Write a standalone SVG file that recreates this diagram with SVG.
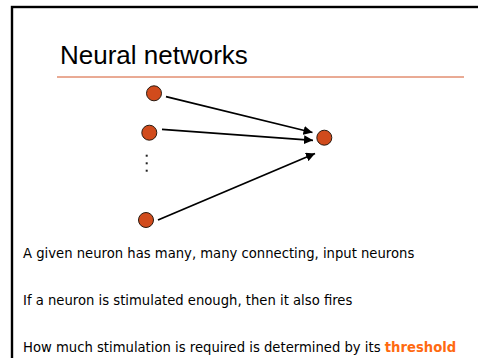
<svg xmlns="http://www.w3.org/2000/svg" width="478" height="358" viewBox="0 0 478 358">
  <defs>
    <marker id="arrowhead" viewBox="0 0 10 10" refX="10" refY="5" markerWidth="5" markerHeight="5" markerUnits="strokeWidth" orient="auto">
      <path d="M0,0 L10,5 L0,10 z" fill="#000"/>
    </marker>
  </defs>
  <style>
    .frame { fill: none; stroke: #000; stroke-width: 2.4; }
    .title { font-family: "Liberation Sans", Arial, sans-serif; font-size: 26px; fill: #000; }
    .rule { stroke: #d4572a; stroke-width: 1; }
    .neuron { fill: #d14b1c; stroke: #2a1a10; stroke-width: 1; }
    .link { stroke: #000; stroke-width: 1.8; fill: none; marker-end: url(#arrowhead); }
    .body { font-family: "DejaVu Sans", Verdana, sans-serif; font-size: 13.2px; fill: #000; }
    .hl { font-weight: bold; fill: #ff6a10; }
    .dot { fill: #222; }
  </style>

  <rect width="478" height="358" fill="#fff"/>
  <!-- slide frame, continues past the right and bottom edges -->
  <rect class="frame" x="12" y="7" width="520" height="400"/>

  <text class="title" x="60" y="64">Neural networks</text>
  <line class="rule" x1="57" y1="77" x2="464" y2="77"/>

  <g id="connectors">
    <line class="link" x1="166" y1="96.7" x2="312.5" y2="132.5"/>
    <line class="link" x1="162" y1="129.3" x2="313" y2="140.3"/>
    <line class="link" x1="158" y1="220" x2="315" y2="153.5"/>
  </g>

  <g id="input1"><circle class="neuron" cx="154" cy="93.3" r="7.5"/></g>
  <g id="input2"><circle class="neuron" cx="149.3" cy="132.7" r="7.5"/></g>
  <!-- vertical ellipsis: more inputs -->
  <g id="ellipsis">
    <rect class="dot" x="145.7" y="154.7" width="2" height="2"/>
    <rect class="dot" x="145.7" y="162.3" width="2" height="2"/>
    <rect class="dot" x="145.7" y="169.7" width="2" height="2"/>
  </g>
  <g id="input3"><circle class="neuron" cx="146" cy="220" r="7.5"/></g>
  <g id="output"><circle class="neuron" cx="324.3" cy="137.7" r="7.5"/></g>

  <text class="body" x="23" y="258">A given neuron has many, many connecting, input neurons</text>
  <text class="body" x="23" y="305">If a neuron is stimulated enough, then it also fires</text>
  <text class="body" x="23" y="351.5">How much stimulation is required is determined by its <tspan class="hl">threshold</tspan></text>
</svg>
